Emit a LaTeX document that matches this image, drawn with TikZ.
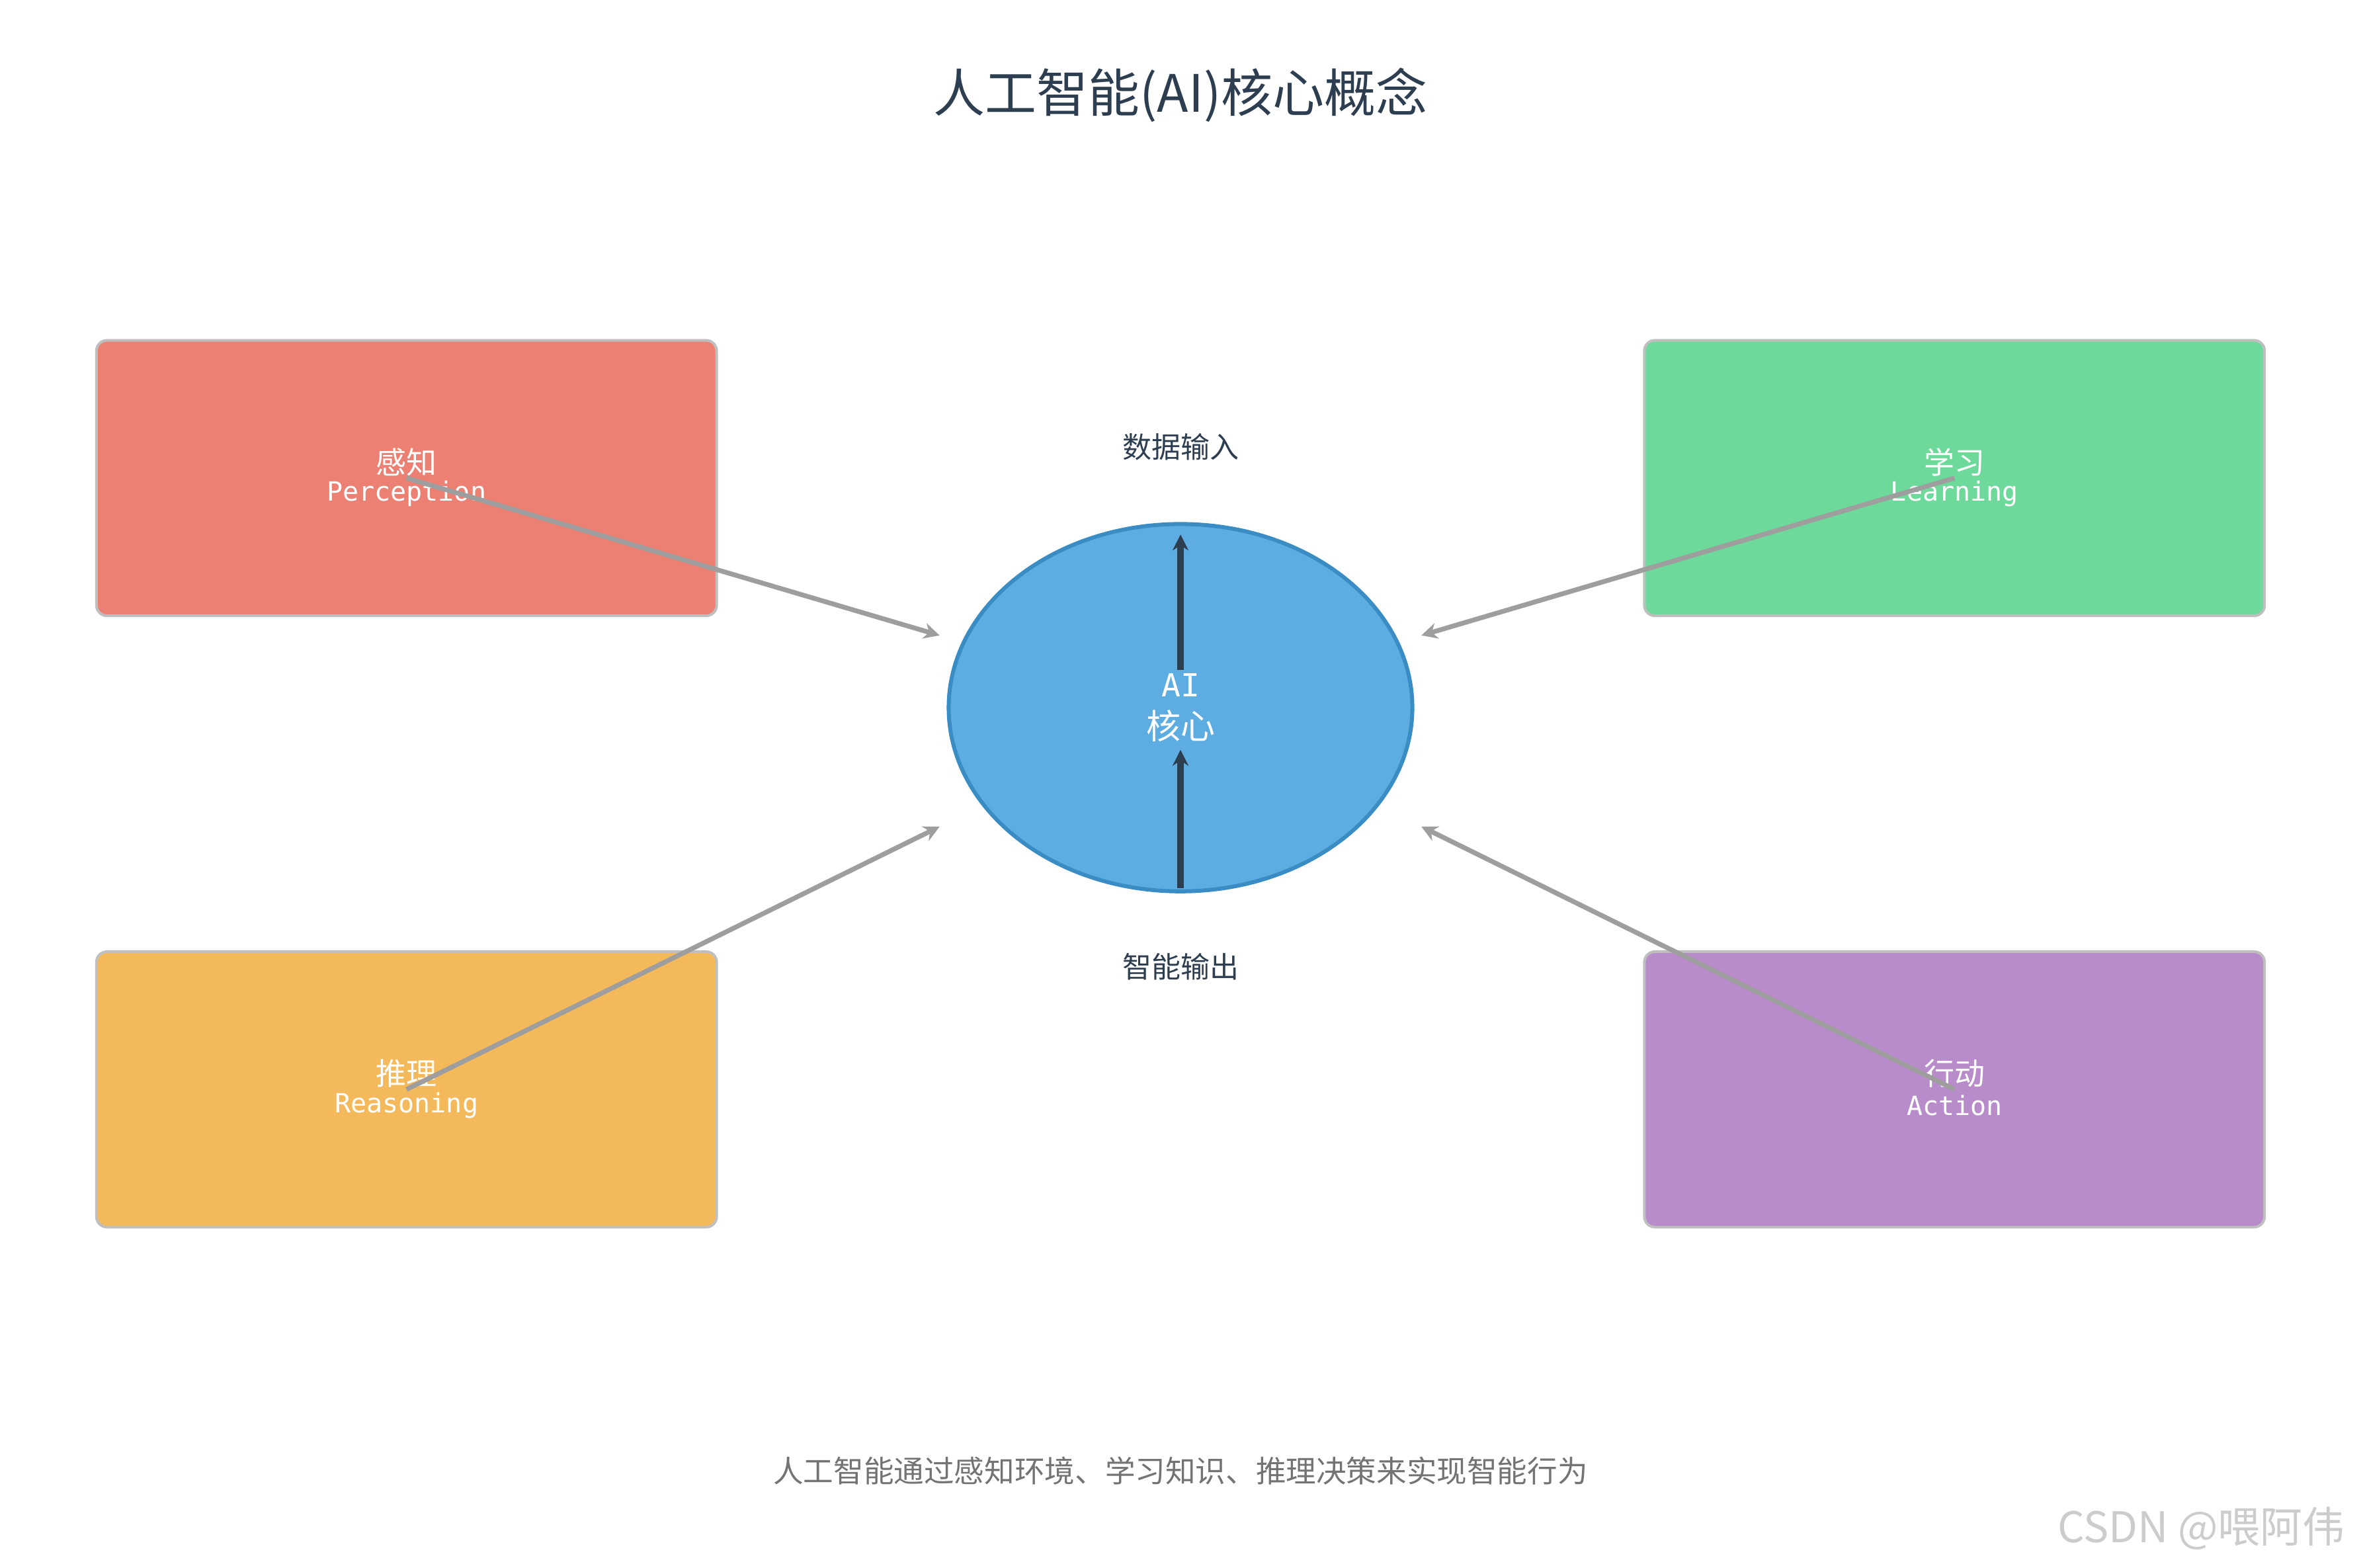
\documentclass[tikz,border=0pt]{standalone}
\usepackage{fontspec}
\setmainfont{Noto Sans CJK SC}
\newfontfamily\cjk{Noto Sans CJK SC}
\newfontfamily\monof{DejaVu Sans Mono}
\usetikzlibrary{arrows.meta,shapes.geometric}
\definecolor{cred}{HTML}{EC8073}
\definecolor{cgreen}{HTML}{6DD99A}
\definecolor{corange}{HTML}{F4B95A}
\definecolor{cpurple}{HTML}{B88BCA}
\definecolor{cblue}{HTML}{5DADE2}
\definecolor{cblueb}{HTML}{3A8CC4}
\definecolor{dark}{HTML}{2C3E50}
\definecolor{ggray}{HTML}{9E9E9E}
\tikzset{
 boxst/.style={draw=black!25,line width=1pt,rounded corners=4pt,minimum width=8.24cm,minimum height=3.66cm},
 zh/.style={text=white,font=\fontsize{11.5}{11.5}\cjk},
 en/.style={text=white,font=\fontsize{10}{10}\monof},
 flow/.style={draw=ggray,line width=1.8pt,-{Stealth[length=6pt,width=6pt]}},
 core/.style={draw=dark,line width=2.4pt,-{Stealth[length=6pt,width=6pt]}},
}
\begin{document}
\begin{tikzpicture}[x=0.02cm,y=-0.02cm]
\useasboundingbox[fill=white] (0,0) rectangle (1568,1041);
\node[font=\fontsize{19.5}{19.5}\cjk,text=dark] (title) at (784,63) {人工智能(AI)核心概念};
\node[boxst,fill=cred] (bp) at (270,317.5) {};
\node[boxst,fill=cgreen] (bl) at (1298,317.5) {};
\node[boxst,fill=corange] (br) at (270,723.5) {};
\node[boxst,fill=cpurple] (ba) at (1298,723.5) {};
\node[draw=cblueb,fill=cblue,line width=1.5pt,ellipse,minimum width=6.16cm,minimum height=4.88cm,inner sep=0pt] (core) at (784,470) {};
\node[zh] (tp) at (270,307) {感知};
\node[en] (ep) at (270,328) {Perception};
\node[zh] (tl) at (1298,307) {学习};
\node[en] (el) at (1298,328) {Learning};
\node[zh] (tr) at (270,713) {推理};
\node[en] (er) at (270,734) {Reasoning};
\node[zh] (ta) at (1298,713) {行动};
\node[en] (ea) at (1298,734) {Action};
\node[text=white,font=\fontsize{12}{12}\monof] (tc) at (784,455) {AI};
\node[text=white,font=\fontsize{13}{13}\cjk] (tc2) at (784,482) {核心};
\node[font=\fontsize{11}{11}\cjk,text=dark] (din) at (784,297) {数据输入};
\node[font=\fontsize{11}{11}\cjk,text=dark] (dout) at (784,642) {智能输出};
\node[font=\fontsize{11.4}{11.4}\cjk,text=black!55] (foot) at (784,977) {人工智能通过感知环境、学习知识、推理决策来实现智能行为};
\node[font=\fontsize{16}{16}\cjk,text=black!20] (wm) at (1462,1015) {CSDN @喂阿伟};
\coordinate (pin) at (624,422);
\coordinate (lin) at (944,422);
\coordinate (rin) at (624,549);
\coordinate (ain) at (944,549);
\coordinate (c1) at (784,590);
\coordinate (c2) at (784,498);
\coordinate (c3) at (784,445);
\coordinate (c4) at (784,355);
\draw[flow] (bp.center) -- (pin);
\draw[flow] (bl.center) -- (lin);
\draw[flow] (br.center) -- (rin);
\draw[flow] (ba.center) -- (ain);
\draw[core] (c1) -- (c2);
\draw[core] (c3) -- (c4);
\end{tikzpicture}
\end{document}
